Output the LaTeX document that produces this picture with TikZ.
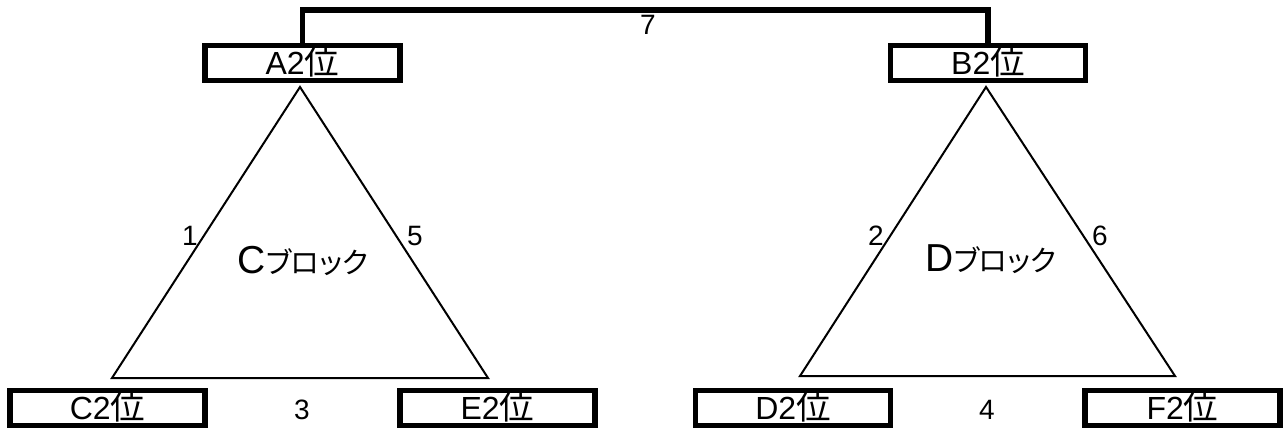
\documentclass[tikz,border=0pt]{standalone}
\usepackage{fontspec}
\setmainfont{Liberation Sans}
\newfontfamily\jp[Scale=1.08]{Noto Sans CJK JP}
\newfontfamily\jpkana[RawFeature=+palt]{Noto Sans CJK JP}

\begin{document}
\begin{tikzpicture}[x=0.5pt,y=-0.5pt,
  rank node/.style={draw,line width=2.75pt,minimum width=97.5pt,minimum height=17.5pt,
    inner sep=0pt,text height=11pt,text depth=0pt,font=\fontsize{16}{16}\selectfont},
  side/.style={line width=1pt,line join=miter},
  link/.style={line width=2.75pt},
  num/.style={inner sep=0pt,font=\fontsize{14}{14}\selectfont}]

  \useasboundingbox (0,0) rectangle (1285,430);

  \node[rank node] (A) at (302.5,63) {A2{\jp 位}};
  \node[rank node] (B) at (988,63) {B2{\jp 位}};
  \node[rank node] (C) at (107.5,408) {C2{\jp 位}};
  \node[rank node] (E) at (497.5,408) {E2{\jp 位}};
  \node[rank node] (D) at (793,408) {D2{\jp 位}};
  \node[rank node] (F) at (1182.5,408) {F2{\jp 位}};

  \coordinate (c1) at (300,87);
  \coordinate (c2) at (112,378);
  \coordinate (c3) at (488,378);
  \coordinate (d1) at (986,87);
  \coordinate (d2) at (800,376);
  \coordinate (d3) at (1175,376);

  \draw[side] (c1) -- (c2) -- (c3) -- cycle;
  \draw[side] (d1) -- (d2) -- (d3) -- cycle;
  \draw[link] (A.north) -- ++(0,-33) -| (B.north);

  \node (cb) at (303,261) {{\fontsize{19.5}{20}\selectfont C}{\jpkana\fontsize{14.5}{15}\selectfont ブロック}};
  \node (db) at (991,259) {{\fontsize{19.5}{20}\selectfont D}{\jpkana\fontsize{14.5}{15}\selectfont ブロック}};

  \node[num] (n1) at (190,236) {1};
  \node[num] (n5) at (415,236) {5};
  \node[num] (n2) at (876,236) {2};
  \node[num] (n6) at (1100,236) {6};
  \node[num] (n3) at (302,410) {3};
  \node[num] (n4) at (987,410) {4};
  \node[num] (n7) at (648,25) {7};

\end{tikzpicture}
\end{document}
